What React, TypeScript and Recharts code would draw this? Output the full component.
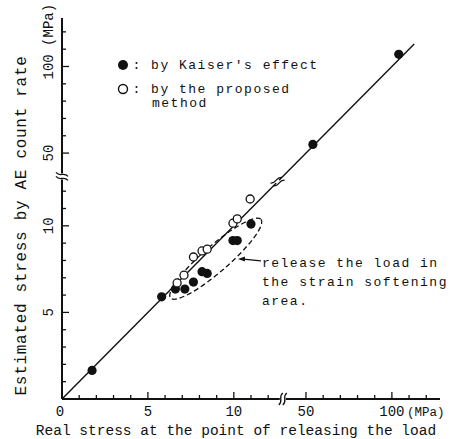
import { ScatterChart, Scatter, XAxis, YAxis, ReferenceLine, ReferenceDot } from 'recharts';

const FONT = '"Liberation Mono", "DejaVu Sans Mono", monospace';
const INK = '#111';

// broken axes: 0-13 MPa at full scale, then from 38 MPa on squeezed 10x
const BREAK_AT = 13;
const RESUME_AT = 38;
const SQUEEZE = 0.1;
const brk = (v: number) => (v <= BREAK_AT ? v : BREAK_AT + (v - RESUME_AT) * SQUEEZE);

const AXIS_MAX = 22;
const MAJOR_TICKS = [0, 5, 10, 50, 100];
const MINOR_TICKS = [1, 2, 3, 4, 6, 7, 8, 9, 11, 12, 60, 70, 80, 90, 110, 120];
const BREAK_MARK = 12.85;

// real stress at unloading (MPa) vs stress estimated from AE count rate (MPa)
const kaiserReal = [1.75, 5.8, 6.6, 7.15, 7.65, 8.15, 8.45, 9.95, 10.2, 11.0, 54, 104];
const kaiserEst = [1.65, 5.9, 6.35, 6.35, 6.75, 7.35, 7.25, 9.15, 9.15, 10.1, 55, 107];
const proposedReal = [6.7, 7.1, 7.65, 8.15, 8.45, 9.95, 10.2, 10.95];
const proposedEst = [6.7, 7.15, 8.2, 8.55, 8.65, 10.15, 10.4, 11.55];
const unityLine = [0, 113];

// softening-area group (dashed loop) and the note pointing at it
const loopCenter = { x: 8.95, y: 8.1 };
const noteTip = { x: 10.24, y: 8.09 };
const noteLines = ['release the load in', 'the strain softening', 'area.'];

const kaiser = kaiserReal.map((r, i) => ({ x: brk(r), y: brk(kaiserEst[i]) }));
const proposed = proposedReal.map((r, i) => ({ x: brk(r), y: brk(proposedEst[i]) }));
const allTicks = [...MAJOR_TICKS, ...MINOR_TICKS].map(brk).sort((a, b) => a - b);

const majorOf = (t: number) => MAJOR_TICKS.find((m) => Math.abs(brk(m) - t) < 1e-6);

const XTick = ({ x, y, payload }: any) => {
  const real = majorOf(payload.value);
  const major = real !== undefined;
  return (
    <g>
      <line x1={x} x2={x} y1={y} y2={y - (major ? 7 : 4)} stroke={INK} strokeWidth={1.3} />
      {major && (
        <text x={real === 0 ? x - 2 : x} y={y + 17} textAnchor="middle" fontSize={14} fontFamily={FONT} fill={INK}>
          {real}
        </text>
      )}
      {real === 100 && (
        <text x={x + 15} y={y + 17} fontSize={12.5} fontFamily={FONT} fill={INK}>
          (MPa)
        </text>
      )}
    </g>
  );
};

const YTick = ({ x, y, payload }: any) => {
  const real = majorOf(payload.value);
  const major = real !== undefined;
  return (
    <g>
      <line x1={x} x2={x + (major ? 7 : 4)} y1={y} y2={y} stroke={INK} strokeWidth={1.3} />
      {major && real !== 0 && real !== 100 && (
        <text
          transform={`translate(${x - 13},${y}) rotate(-90)`}
          textAnchor="middle"
          dominantBaseline="central"
          fontSize={14}
          fontFamily={FONT}
          fill={INK}
        >
          {real}
        </text>
      )}
      {real === 100 && (
        <text
          transform={`translate(${x - 13},${y + 13}) rotate(-90)`}
          dominantBaseline="central"
          fontSize={14}
          fontFamily={FONT}
          fill={INK}
        >
          100 (MPa)
        </text>
      )}
    </g>
  );
};

const squiggle = (cx: number, cy: number) =>
  `M ${cx - 2} ${cy + 6} C ${cx + 3} ${cy + 2}, ${cx - 3} ${cy - 2}, ${cx + 2} ${cy - 6}`;

const BreakX = ({ cx, cy }: any) => (
  <g>
    <rect x={cx - 3} y={cy - 3} width={6} height={6} fill="#fff" />
    <path d={squiggle(cx - 2, cy)} stroke={INK} fill="none" strokeWidth={1.3} />
    <path d={squiggle(cx + 2, cy)} stroke={INK} fill="none" strokeWidth={1.3} />
  </g>
);

const BreakY = ({ cx, cy }: any) => (
  <g transform={`rotate(90 ${cx} ${cy})`}>
    <rect x={cx - 3} y={cy - 3} width={6} height={6} fill="#fff" />
    <path d={squiggle(cx - 2, cy)} stroke={INK} fill="none" strokeWidth={1.3} />
    <path d={squiggle(cx + 2, cy)} stroke={INK} fill="none" strokeWidth={1.3} />
  </g>
);

const BreakDiag = ({ cx, cy }: any) => (
  <g transform={`rotate(45 ${cx} ${cy})`}>
    <rect x={cx - 3} y={cy - 2} width={6} height={4} fill="#fff" />
    <path d={squiggle(cx - 2, cy)} stroke={INK} fill="none" strokeWidth={1.2} />
    <path d={squiggle(cx + 2, cy)} stroke={INK} fill="none" strokeWidth={1.2} />
  </g>
);

const Loop = ({ cx, cy }: any) => (
  <ellipse
    cx={cx}
    cy={cy}
    rx={60}
    ry={13}
    transform={`rotate(-41 ${cx} ${cy})`}
    fill="none"
    stroke={INK}
    strokeWidth={1.3}
    strokeDasharray="5 3"
  />
);

const Note = ({ cx, cy }: any) => (
  <g fontFamily={FONT} fontSize={13} fill={INK} letterSpacing={1.5}>
    <line x1={cx + 3} y1={cy} x2={cx + 23} y2={cy + 2} stroke={INK} strokeWidth={1.1} />
    <path d={`M ${cx} ${cy} l 7 -2.5 l 0 5 z`} fill={INK} />
    {noteLines.map((s, i) => (
      <text key={s} x={cx + 24} y={cy + 8 + i * 19}>
        {s}
      </text>
    ))}
  </g>
);

const Filled = ({ cx, cy }: any) => <circle cx={cx} cy={cy} r={4.6} fill={INK} />;
const Hollow = ({ cx, cy }: any) => <circle cx={cx} cy={cy} r={4} fill="#fff" stroke={INK} strokeWidth={1.3} />;

export default function App() {
  return (
    <div style={{ position: 'absolute', left: 0, top: 0, width: 470, height: 439, background: '#fff' }}>
      <ScatterChart width={470} height={439} margin={{ top: 18, right: 30, bottom: 10, left: 12 }}>
        <XAxis
          type="number"
          dataKey="x"
          domain={[0, AXIS_MAX]}
          ticks={allTicks}
          interval={0}
          height={30}
          tickSize={0}
          tickMargin={0}
          tickLine={false}
          axisLine={{ stroke: INK, strokeWidth: 2 }}
          tick={(p: any) => <XTick {...p} />}
          label={{
            content: ({ viewBox }: any) => (
              <text
                x={viewBox.x + viewBox.width / 2 - 15}
                y={viewBox.y + 36}
                textAnchor="middle"
                fontSize={14.5}
                fontFamily={FONT}
                fill={INK}
              >
                Real stress at the point of releasing the load
              </text>
            ),
          }}
        />
        <YAxis
          type="number"
          dataKey="y"
          domain={[0, AXIS_MAX]}
          ticks={allTicks}
          interval={0}
          width={50}
          tickSize={0}
          tickMargin={0}
          tickLine={false}
          axisLine={{ stroke: INK, strokeWidth: 2 }}
          tick={(p: any) => <YTick {...p} />}
          label={{
            content: ({ viewBox }: any) => (
              <text
                transform={`translate(${viewBox.x + 10},${viewBox.y + viewBox.height / 2 + 17}) rotate(-90)`}
                textAnchor="middle"
                dominantBaseline="central"
                fontSize={16}
                fontFamily={FONT}
                letterSpacing={0.7}
                fill={INK}
              >
                Estimated stress by AE count rate
              </text>
            ),
          }}
        />
        <ReferenceLine
          segment={[
            { x: brk(unityLine[0]), y: brk(unityLine[0]) },
            { x: brk(unityLine[1]), y: brk(unityLine[1]) },
          ]}
          stroke={INK}
          strokeWidth={1.4}
          ifOverflow="visible"
        />
        <ReferenceDot x={loopCenter.x} y={loopCenter.y} r={1} shape={(p: any) => <Loop {...p} />} ifOverflow="visible" />
        <Scatter data={kaiser} shape={(p: any) => <Filled {...p} />} isAnimationActive={false} />
        <Scatter data={proposed} shape={(p: any) => <Hollow {...p} />} isAnimationActive={false} />
        <ReferenceDot x={noteTip.x} y={noteTip.y} r={1} shape={(p: any) => <Note {...p} />} ifOverflow="visible" />
        <ReferenceDot x={BREAK_MARK} y={0} r={1} shape={(p: any) => <BreakX {...p} />} ifOverflow="visible" />
        <ReferenceDot x={0} y={BREAK_MARK} r={1} shape={(p: any) => <BreakY {...p} />} ifOverflow="visible" />
        <ReferenceDot x={12.55} y={12.55} r={1} shape={(p: any) => <BreakDiag {...p} />} ifOverflow="visible" />
        <g fontFamily={FONT} fontSize={13} fill={INK} letterSpacing={1.5}>
          <circle cx={123} cy={65} r={5} fill={INK} />
          <text x={132.5} y={69}>: by Kaiser's effect</text>
          <circle cx={123} cy={89} r={4.5} fill="#fff" stroke={INK} strokeWidth={1.4} />
          <text x={132.5} y={93}>: by the proposed</text>
          <text x={152} y={107}>method</text>
        </g>
      </ScatterChart>
    </div>
  );
}
